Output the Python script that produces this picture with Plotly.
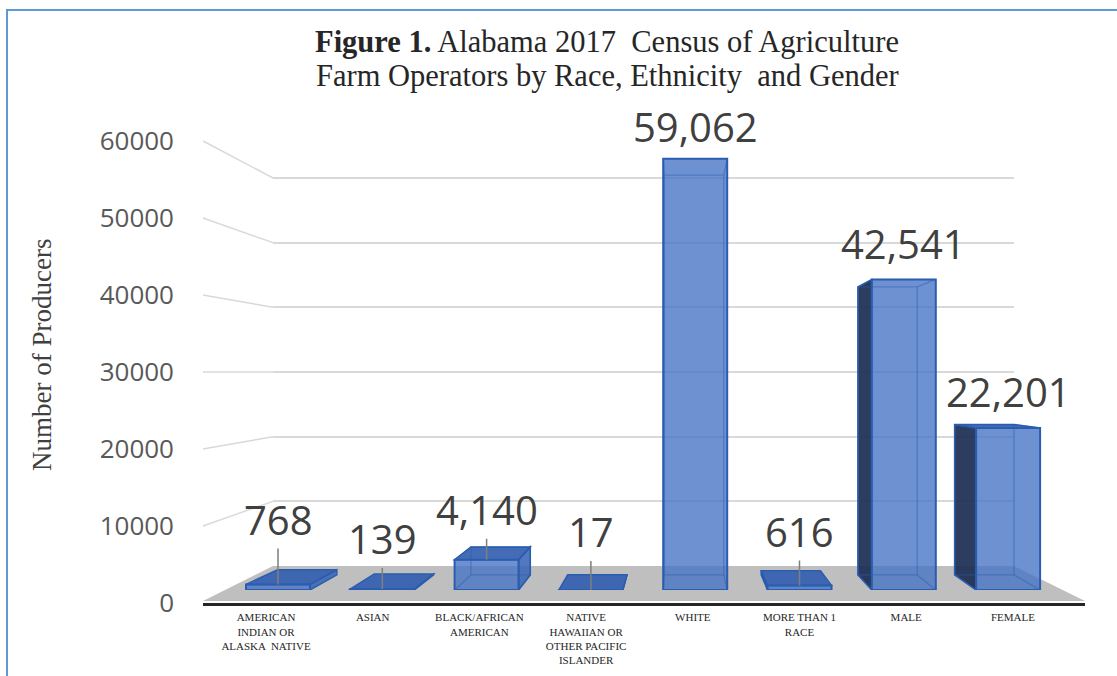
import plotly.graph_objects as go

# ---------------- data ----------------
categories = ["American Indian or Alaska Native", "Asian", "Black/African American",
              "Native Hawaiian or Other Pacific Islander", "White", "More than 1 race",
              "Male", "Female"]
tick_labels = ["AMERICAN<br>INDIAN OR<br>ALASKA  NATIVE", "ASIAN", "BLACK/AFRICAN<br>AMERICAN",
               "NATIVE<br>HAWAIIAN OR<br>OTHER PACIFIC<br>ISLANDER", "WHITE",
               "MORE THAN 1<br>RACE", "MALE", "FEMALE"]
producers = [768, 139, 4140, 17, 59062, 616, 42541, 22201]
y_ticks = [0, 10000, 20000, 30000, 40000, 50000, 60000]
y_tick_text = ["0", "10000", "20000", "30000", "40000", "50000", "60000"]

# ---------------- style / geometry (pixels of the 1117x676 page) ----------------
W, H = 1117, 676
label_offset_px = [-65, -50, -50, -58, -32, -54, -36, -36]
leader_line = [True, True, True, True, False, True, False, False]

FRONT_X0, FRONT_X1, FRONT_Y0, FRONT_YTOP = 203, 1085, 603, 141   # tick-label plane
LAB_C0, LAB_STEP = 266, 106.7                                    # category label centres
WALL_X0, WALL_X1, WALL_Y0, WALL_YTOP = 273, 1014, 566, 178       # back wall
BAR_C0, BAR_STEP, BAR_Y0, BAR_YTOP = 278, 104.3, 590, 152        # bar front faces
HALF_W = 32
VP = (680, 382)      # vanishing point
DEPTH = 0.0725       # bar depth towards vanishing point
YMAX = 60000
WALL_RMAX = 61000    # wall axis range a bit above 60000 so the top gridline is drawn


def fx(p):
    return p / W


def fy(p):
    return 1 - p / H


def bar_px(i):
    return BAR_C0 + BAR_STEP * i


def bar_py(v):
    return BAR_Y0 - (BAR_Y0 - BAR_YTOP) * v / YMAX


def to_x3(p):
    return (p - BAR_C0) / BAR_STEP


def to_y3(p):
    return (BAR_Y0 - p) / (BAR_Y0 - BAR_YTOP) * YMAX


def back(pt):
    return (pt[0] + DEPTH * (VP[0] - pt[0]), pt[1] + DEPTH * (VP[1] - pt[1]))


def path(pts, close=True):
    s = "M " + " L ".join(f"{to_x3(x):.4f},{to_y3(y):.2f}" for x, y in pts)
    return s + (" Z" if close else "")


BAR_FILL = "rgba(68,114,196,0.78)"
BAR_LINE = "#2a5db0"

fig = go.Figure()

fig.add_trace(go.Scatter(x=categories, y=[0] * len(categories), mode="markers",
                         marker=dict(opacity=0), hoverinfo="skip", showlegend=False))
fig.add_trace(go.Scatter(x=[0.5], y=[0], mode="markers", xaxis="x2", yaxis="y2",
                         marker=dict(opacity=0), hoverinfo="skip", showlegend=False))

fig.add_trace(go.Bar(x=categories, y=producers, xaxis="x3", yaxis="y3",
                     width=2 * HALF_W / BAR_STEP,
                     marker=dict(color=BAR_FILL, line=dict(color=BAR_LINE, width=2)),
                     hoverinfo="skip", showlegend=False))

shapes = []

# floor
shapes.append(dict(type="path", xref="paper", yref="paper", layer="below",
                   path=(f"M {fx(FRONT_X0)},{fy(FRONT_Y0 - 2)} L {fx(FRONT_X1)},{fy(FRONT_Y0 - 2)} "
                         f"L {fx(WALL_X1)},{fy(WALL_Y0)} L {fx(WALL_X0)},{fy(WALL_Y0)} Z"),
                   fillcolor="#bfbfbf", line=dict(width=0)))

# side-wall grid connectors
for t in y_ticks[1:]:
    yf = FRONT_Y0 - (FRONT_Y0 - FRONT_YTOP) * t / YMAX
    yw = WALL_Y0 - (WALL_Y0 - WALL_YTOP) * t / YMAX
    shapes.append(dict(type="line", xref="paper", yref="paper", layer="below",
                       x0=fx(FRONT_X0), y0=fy(yf), x1=fx(WALL_X0), y1=fy(yw),
                       line=dict(color="#d9d9d9", width=1.5)))

# 3-D faces of each bar
for i, v in enumerate(producers):
    cx = bar_px(i)
    xl, xr = cx - HALF_W, cx + HALF_W
    yb, yt = bar_py(0), bar_py(v)
    if xl > VP[0]:
        pts = [(xl, yb), (xl, yt), back((xl, yt)), back((xl, yb))]
        shapes.append(dict(type="path", xref="x3", yref="y3", layer="between", path=path(pts),
                           fillcolor="rgba(28,46,84,0.93)", line=dict(color=BAR_LINE, width=1.5)))
    if xr < VP[0]:
        pts = [(xr, yb), (xr, yt), back((xr, yt)), back((xr, yb))]
        shapes.append(dict(type="path", xref="x3", yref="y3", layer="between", path=path(pts),
                           fillcolor="rgba(58,102,182,0.88)", line=dict(color=BAR_LINE, width=1.5)))
    if yt > VP[1]:
        pts = [(xl, yt), (xr, yt), back((xr, yt)), back((xl, yt))]
        shapes.append(dict(type="path", xref="x3", yref="y3", layer="between", path=path(pts),
                           fillcolor="rgba(52,96,176,0.92)", line=dict(color=BAR_LINE, width=1.5)))
    bl, br = back((xl, yb)), back((xr, yb))
    tl, tr = back((xl, yt)), back((xr, yt))
    if v > 3000:
        shapes.append(dict(type="path", xref="x3", yref="y3", layer="above",
                           path=path([bl, br, tr, tl]),
                           line=dict(color="rgba(42,93,176,0.45)", width=1.3)))
        for a, b in [((xl, yb), bl), ((xr, yb), br), ((xr, yt), tr), ((xl, yt), tl)]:
            shapes.append(dict(type="path", xref="x3", yref="y3", layer="above",
                               path=path([a, b], close=False),
                               line=dict(color="rgba(42,93,176,0.45)", width=1.3)))

# blue frame (top and left)
shapes.append(dict(type="line", xref="paper", yref="paper", x0=fx(7), y0=0, x1=fx(7), y1=fy(10),
                   line=dict(color="#5b9bd5", width=2)))
shapes.append(dict(type="line", xref="paper", yref="paper", x0=fx(6), y0=fy(10), x1=1, y1=fy(10),
                   line=dict(color="#5b9bd5", width=2)))

annotations = []
annotations.append(dict(xref="paper", yref="paper", x=fx(607), y=fy(42), showarrow=False,
                        xanchor="center", yanchor="middle",
                        text="<b>Figure 1.</b> Alabama 2017  Census of Agriculture",
                        font=dict(family="Liberation Serif", size=30.5, color="#262626")))
annotations.append(dict(xref="paper", yref="paper", x=fx(607), y=fy(76), showarrow=False,
                        xanchor="center", yanchor="middle",
                        text="Farm Operators by Race, Ethnicity  and Gender",
                        font=dict(family="Liberation Serif", size=30.5, color="#262626")))
annotations.append(dict(xref="paper", yref="paper", x=fx(42), y=fy(355), showarrow=False,
                        xanchor="center", yanchor="middle",
                        text="Number of Producers", textangle=-90,
                        font=dict(family="Liberation Serif", size=27, color="#404040")))
for cat, v, off, lead in zip(categories, producers, label_offset_px, leader_line):
    annotations.append(dict(xref="x3", yref="y3", x=cat, y=v, text=f"{v:,}",
                            showarrow=True, arrowhead=0, arrowwidth=1.5, standoff=0,
                            arrowcolor="#7f7f7f" if lead else "rgba(0,0,0,0)",
                            ax=0, ay=off,
                            font=dict(family="Open Sans", size=40, color="#404040")))

lab_r0 = (FRONT_X0 - LAB_C0) / LAB_STEP
lab_r1 = (len(categories) - 1) + (FRONT_X1 - (LAB_C0 + LAB_STEP * (len(categories) - 1))) / LAB_STEP
wall_top_px = WALL_Y0 - (WALL_Y0 - WALL_YTOP) * WALL_RMAX / YMAX

fig.update_layout(
    width=W, height=H,
    margin=dict(l=0, r=0, t=0, b=0, pad=0, autoexpand=False),
    paper_bgcolor="white", plot_bgcolor="rgba(0,0,0,0)",
    showlegend=False, hovermode=False,
    xaxis=dict(type="category", categoryorder="array", categoryarray=categories,
               domain=[fx(FRONT_X0), fx(FRONT_X1)], range=[lab_r0, lab_r1],
               tickvals=categories, ticktext=tick_labels, ticks="",
               tickfont=dict(family="Liberation Serif", size=11, color="#262626"),
               ticklabelstandoff=2, automargin=False,
               showline=True, linecolor="#262626", linewidth=3,
               showgrid=False, zeroline=False, fixedrange=True),
    yaxis=dict(domain=[fy(FRONT_Y0), fy(FRONT_YTOP)], range=[0, YMAX],
               tickvals=y_ticks, ticktext=y_tick_text, ticks="", ticklabelstandoff=28,
               tickfont=dict(family="Open Sans", size=26, color="#595959"), automargin=False,
               showgrid=False, zeroline=False, showline=False, fixedrange=True),
    xaxis2=dict(domain=[fx(WALL_X0), fx(WALL_X1)], range=[0, 1], anchor="y2",
                visible=False, automargin=False, fixedrange=True),
    yaxis2=dict(domain=[fy(WALL_Y0), fy(wall_top_px)], range=[0, WALL_RMAX], anchor="x2",
                tickvals=y_ticks, showgrid=True, gridcolor="#d9d9d9", gridwidth=1.5,
                showticklabels=False, ticks="", zeroline=False, showline=False,
                automargin=False, fixedrange=True),
    xaxis3=dict(type="category", categoryorder="array", categoryarray=categories,
                domain=[fx(BAR_C0 - BAR_STEP / 2), fx(BAR_C0 + BAR_STEP * (len(categories) - 0.5))],
                range=[-0.5, len(categories) - 0.5], anchor="y3",
                showticklabels=False, ticks="", showgrid=False, zeroline=False,
                showline=False, automargin=False, fixedrange=True),
    yaxis3=dict(domain=[fy(BAR_Y0), fy(BAR_YTOP)], range=[0, YMAX], anchor="x3",
                showticklabels=False, ticks="", showgrid=False, zeroline=False,
                showline=False, automargin=False, fixedrange=True),
    shapes=shapes,
    annotations=annotations,
)

fig.write_html("out.html")
